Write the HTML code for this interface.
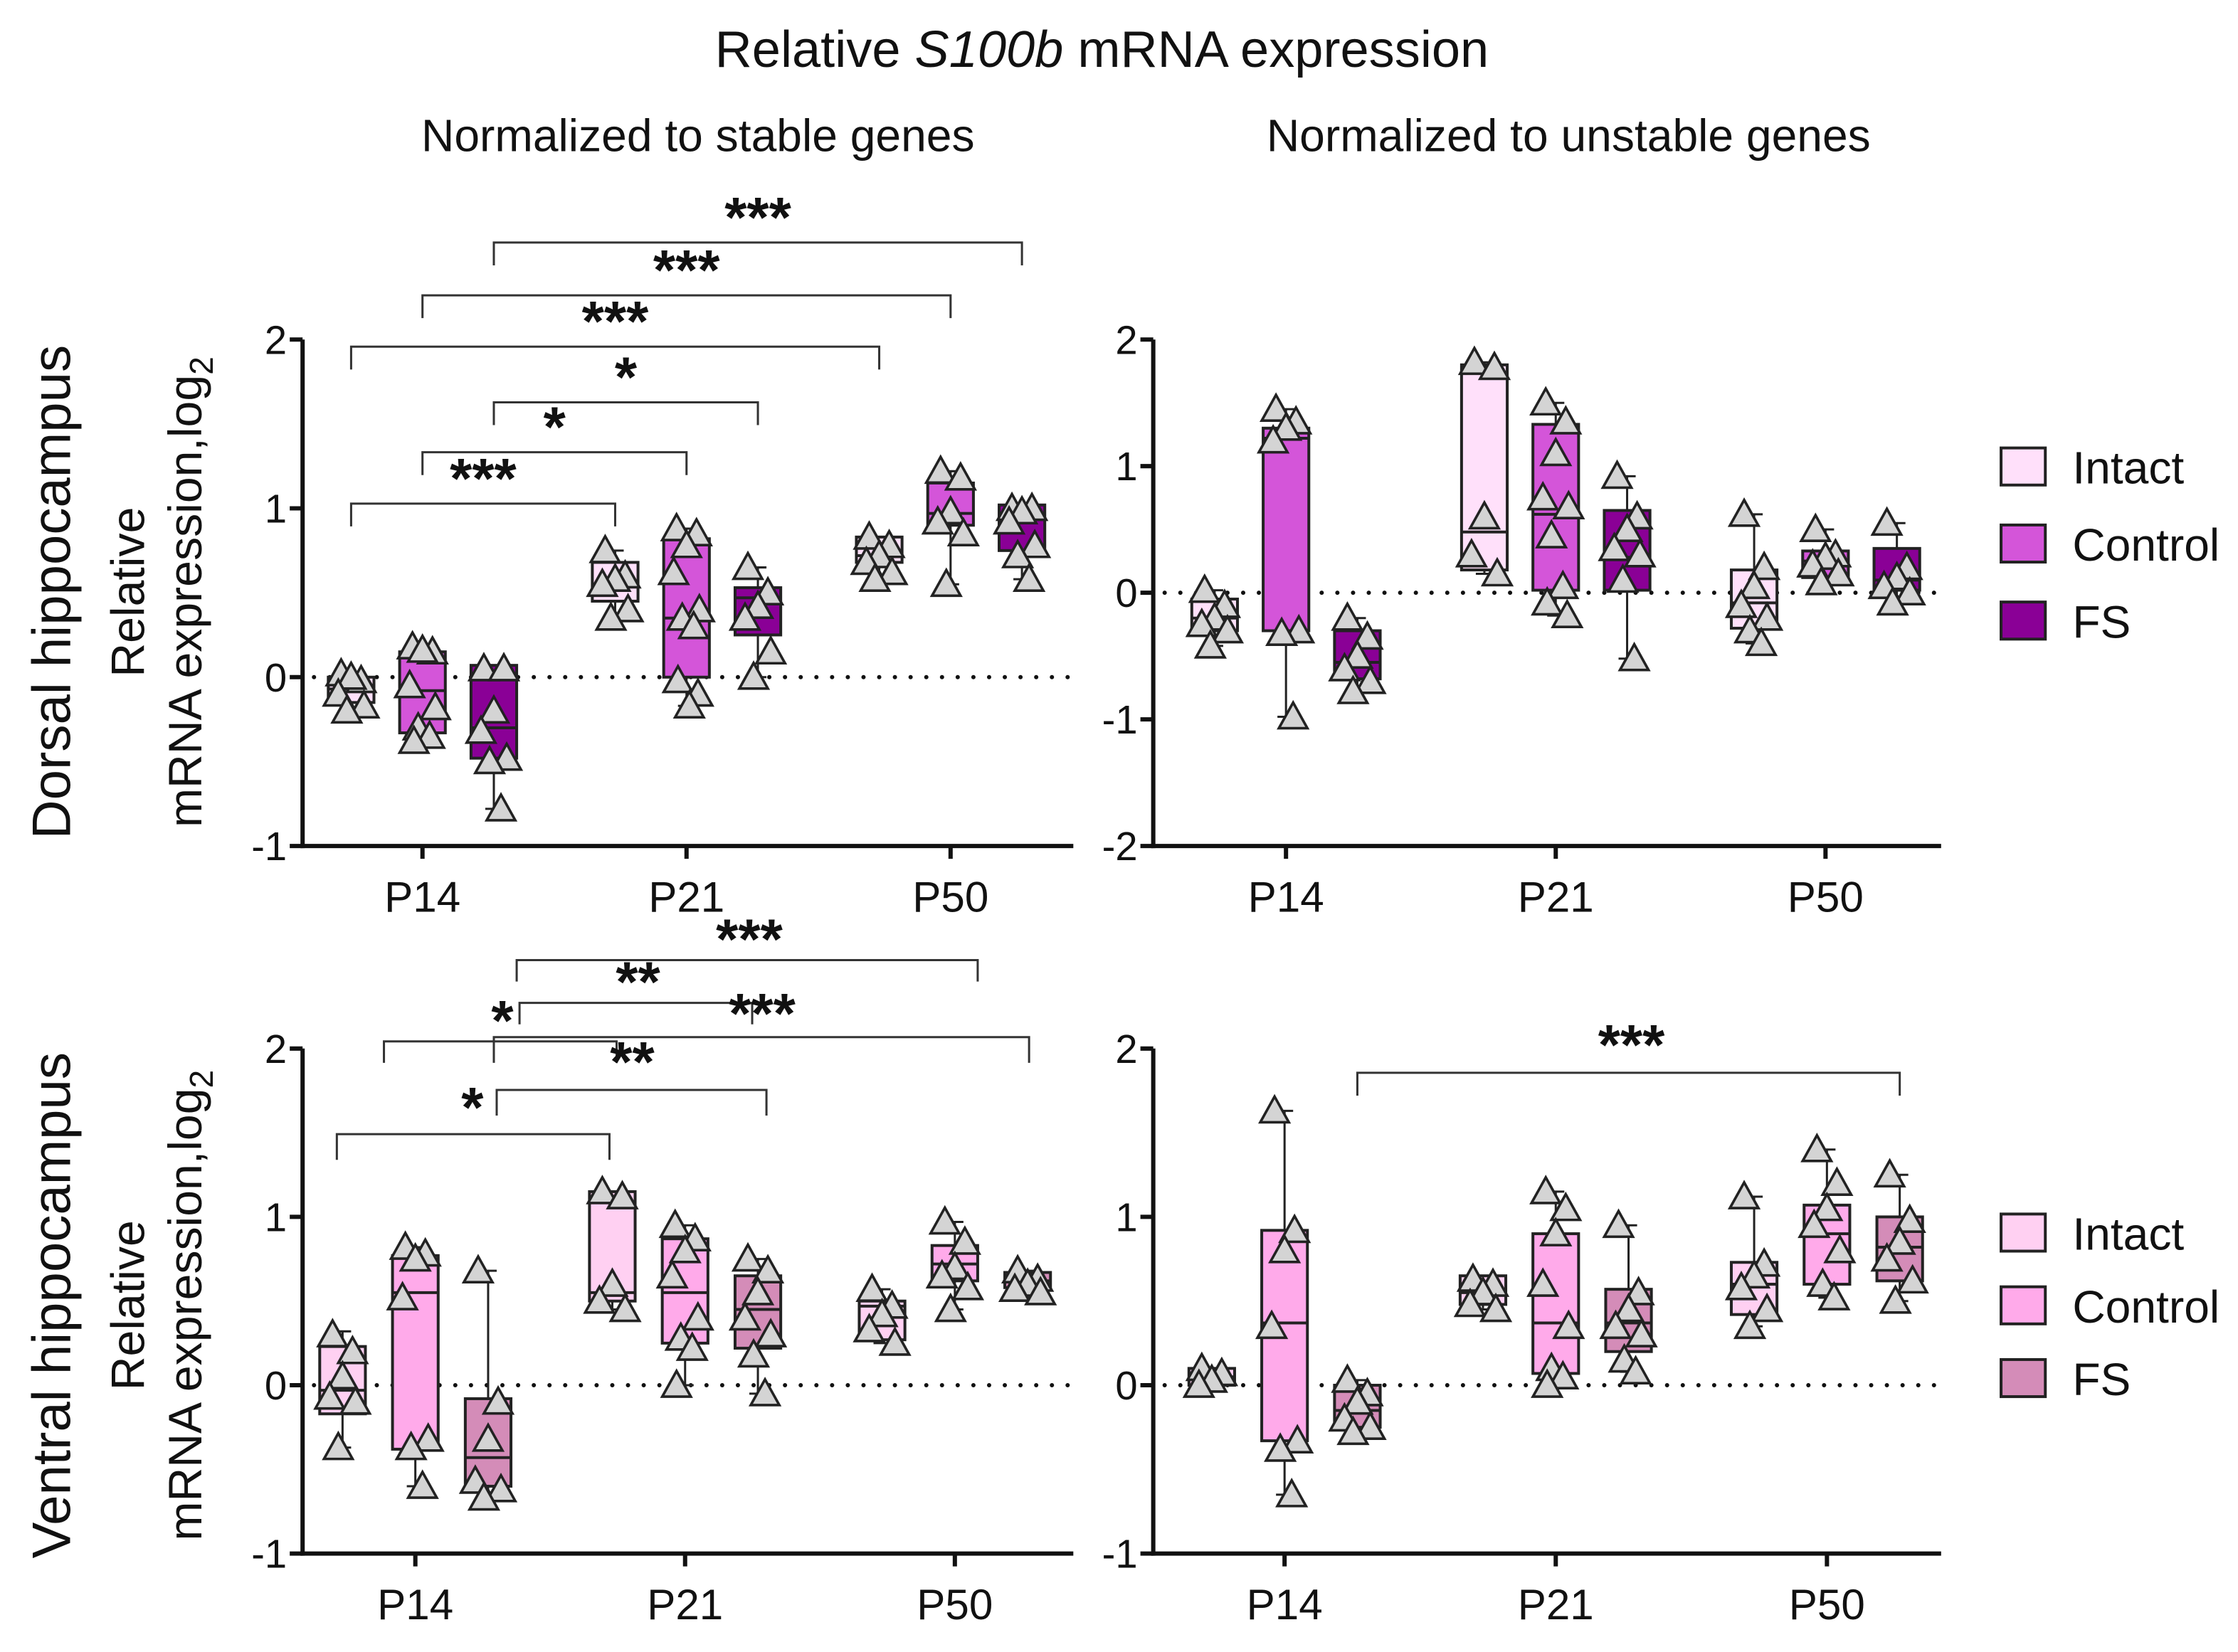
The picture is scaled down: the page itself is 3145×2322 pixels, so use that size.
<!DOCTYPE html>
<html><head><meta charset="utf-8">
<style>
html,body{margin:0;padding:0;background:#fff;}
svg{display:block;}
text{font-family:"Liberation Sans",Arial,sans-serif;fill:#111;}
</style></head>
<body>
<svg id="fig" xmlns="http://www.w3.org/2000/svg" width="3145" height="2322" viewBox="0 0 1568 1158" preserveAspectRatio="none">
<text x="772" y="47" font-size="36" text-anchor="middle">Relative <tspan font-style="italic">S100b</tspan> mRNA expression</text>
<text x="489" y="106" font-size="32" text-anchor="middle">Normalized to stable genes</text>
<text x="1099" y="106" font-size="32" text-anchor="middle">Normalized to unstable genes</text>
<text transform="translate(49,415) rotate(-90)" font-size="38" text-anchor="middle">Dorsal hippocampus</text>
<text transform="translate(49,915) rotate(-90)" font-size="38" text-anchor="middle">Ventral hippocampus</text>
<text transform="translate(101,415) rotate(-90)" font-size="33" text-anchor="middle">Relative</text>
<text transform="translate(141,415) rotate(-90)" font-size="33" text-anchor="middle">mRNA expression,log<tspan font-size="23" dy="8">2</tspan></text>
<text transform="translate(101,915) rotate(-90)" font-size="33" text-anchor="middle">Relative</text>
<text transform="translate(141,915) rotate(-90)" font-size="33" text-anchor="middle">mRNA expression,log<tspan font-size="23" dy="8">2</tspan></text>
</svg>
<script>
const NS='http://www.w3.org/2000/svg';
const svg=document.getElementById('fig');
const categories=['P14','P21','P50'];
const groups=['Intact','Control','FS'];
const colorsTop=['#ffe0fa','#d455d9','#8a0096'];
const colorsBottom=['#ffd0f2','#ffaaea','#d48cb8'];
// [min,q1,median,q3,max] for each box: P14 I,C,F, P21 I,C,F, P50 I,C,F
const statsA=[[-0.2,-0.15,-0.07,0.0,0.03],[-0.38,-0.33,-0.08,0.15,0.18],[-0.78,-0.48,-0.3,0.07,0.07],
[0.35,0.45,0.55,0.68,0.75],[-0.17,0.0,0.35,0.82,0.88],[0.0,0.25,0.47,0.53,0.65],
[0.58,0.68,0.72,0.83,0.83],[0.55,0.9,0.97,1.15,1.22],[0.58,0.75,0.95,1.02,1.02]];
const ptsA=[[0.02,-0.02,0,-0.1,-0.17,-0.2],[0.18,0.15,0.16,-0.05,-0.18,-0.3,-0.35,-0.38],[0.05,0.05,-0.2,-0.32,-0.48,-0.5,-0.78],
[0.75,0.6,0.58,0.55,0.4,0.35],[0.88,0.85,0.78,0.62,0.4,0.35,0.3,-0.02,-0.1,-0.17],[0.65,0.5,0.42,0.35,0.15,0.0],
[0.83,0.78,0.72,0.68,0.62,0.58],[1.22,1.18,0.98,0.92,0.85,0.55],[1.0,1.0,0.98,0.92,0.78,0.72,0.58]];
const statsB=[[-0.42,-0.3,-0.2,-0.05,0.02],[-0.98,-0.3,1.22,1.3,1.45],[-0.78,-0.68,-0.55,-0.3,-0.2],
[0.15,0.18,0.48,1.8,1.82],[-0.18,0.02,0.62,1.33,1.5],[-0.52,0.02,0.28,0.65,0.92],
[-0.4,-0.28,-0.08,0.18,0.62],[0.08,0.12,0.25,0.33,0.5],[-0.08,0.02,0.1,0.35,0.55]];
const ptsB=[[0.02,-0.1,-0.2,-0.25,-0.3,-0.42],[1.45,1.35,1.3,1.2,-0.3,-0.32,-0.98],[-0.2,-0.35,-0.5,-0.6,-0.7,-0.78],
[1.82,1.78,0.6,0.3,0.15],[1.5,1.35,1.1,0.75,0.68,0.45,0.05,-0.08,-0.18],[0.92,0.6,0.5,0.35,0.3,0.1,-0.52],
[0.62,0.2,0.05,-0.1,-0.2,-0.3,-0.4],[0.5,0.3,0.28,0.22,0.15,0.08],[0.55,0.2,0.12,0.05,0.0,-0.08]];
const statsC=[[-0.37,-0.17,-0.03,0.23,0.32],[-0.6,-0.38,0.55,0.77,0.82],[-0.67,-0.6,-0.43,-0.08,0.68],
[0.45,0.5,0.55,1.15,1.15],[0.0,0.25,0.55,0.87,0.95],[-0.05,0.22,0.45,0.65,0.75],
[0.25,0.27,0.47,0.5,0.57],[0.45,0.62,0.72,0.83,0.97],[0.55,0.58,0.62,0.67,0.68]];
const ptsC=[[0.3,0.2,0.05,-0.07,-0.1,-0.37],[0.82,0.78,0.75,0.52,-0.32,-0.37,-0.6],[0.68,-0.1,-0.32,-0.57,-0.62,-0.67],
[1.15,1.12,0.6,0.5,0.45],[0.95,0.87,0.8,0.65,0.4,0.28,0.22,0.0],[0.75,0.68,0.55,0.4,0.3,0.18,-0.05],
[0.57,0.47,0.42,0.33,0.25],[0.97,0.85,0.7,0.65,0.58,0.45],[0.68,0.63,0.6,0.57,0.55]];
const statsD=[[0.0,0.0,0.05,0.1,0.1],[-0.65,-0.33,0.37,0.92,1.63],[-0.28,-0.25,-0.15,0.0,0.03],
[0.45,0.48,0.55,0.65,0.63],[0.0,0.07,0.37,0.9,1.15],[0.08,0.2,0.37,0.57,0.95],
[0.35,0.42,0.6,0.73,1.12],[0.52,0.6,0.9,1.07,1.4],[0.5,0.62,0.82,1.0,1.25]];
const ptsD=[[0.1,0.07,0.03,0.0],[1.63,0.92,0.8,0.35,-0.33,-0.38,-0.65],[0.03,-0.05,-0.1,-0.2,-0.25,-0.28],
[0.63,0.6,0.55,0.48,0.45],[1.15,1.05,0.9,0.6,0.35,0.1,0.05,0.0],[0.95,0.55,0.45,0.35,0.3,0.15,0.08],
[1.12,0.72,0.65,0.58,0.45,0.35],[1.4,1.2,1.05,0.95,0.8,0.6,0.52],[1.25,0.98,0.85,0.75,0.62,0.5]];
const ticksA=[-1,0,1,2], ticksB=[-2,-1,0,1,2], ticksC=[-1,0,1,2], ticksD=[-1,0,1,2];
// significance brackets: [fromCat,fromGroup,toCat,toGroup,label]
const sigA=[[0,2,2,2,'***'],[0,1,2,1,'***'],[0,0,2,0,'***'],[0,2,1,2,'*'],[0,1,1,1,'*'],[0,0,1,0,'***']];
const sigD=[[0,2,2,2,'***']];

function el(tag,attrs,parent){const e=document.createElementNS(NS,tag);for(const k in attrs)e.setAttribute(k,attrs[k]);(parent||svg).appendChild(e);return e;}

function panel(name,cfg,stats,pts,ticks,colors){
  const g=el('g',{});
  
  
  const ymin=ticks[0],ymax=ticks[ticks.length-1];
  const y=v=>cfg.yb-(v-ymin)/(ymax-ymin)*(cfg.yb-cfg.yt);
  const xc=i=>cfg.c0+i*cfg.step;
  const xb=(i,j)=>xc(i)+(j-1)*cfg.off;
  cfg.xb=xb; cfg.y=y;
  const zl=el('line',{x1:cfg.ax+8,x2:cfg.ax1,y1:y(0),y2:y(0),stroke:'#111','stroke-width':3,'stroke-dasharray':'0 11','stroke-linecap':'round'},g);
  
  
  const ya=el('line',{x1:cfg.ax,x2:cfg.ax,y1:cfg.yt,y2:cfg.yb+1.5,stroke:'#111','stroke-width':3},g);
  
  
  const xa=el('line',{x1:cfg.ax-1.5,x2:cfg.ax1,y1:cfg.yb,y2:cfg.yb,stroke:'#111','stroke-width':3},g);
  
  
  ticks.forEach(t=>{
    el('line',{x1:cfg.ax-9,x2:cfg.ax,y1:y(t),y2:y(t),stroke:'#111','stroke-width':3},g);
    const tx=el('text',{x:cfg.ax-11,y:y(t)+10,'font-size':28,'text-anchor':'end'},g);
    tx.textContent=t;
    
    
  });
  categories.forEach((c,i)=>{
    el('line',{x1:xc(i),x2:xc(i),y1:cfg.yb,y2:cfg.yb+9,stroke:'#111','stroke-width':3},g);
    const tx=el('text',{x:xc(i),y:cfg.yb+46,'font-size':30,'text-anchor':'middle'},g);
    tx.textContent=c;
    
    
  });
  stats.forEach((s,k)=>{
    const i=Math.floor(k/3),j=k%3,x=xb(i,j),w=32;
    const bg=el('g',{},g);
    
    
    el('line',{x1:x,x2:x,y1:y(s[0]),y2:y(s[4]),stroke:'#222','stroke-width':1.5},bg);
    el('line',{x1:x-6,x2:x+6,y1:y(s[0]),y2:y(s[0]),stroke:'#222','stroke-width':1.5},bg);
    el('line',{x1:x-6,x2:x+6,y1:y(s[4]),y2:y(s[4]),stroke:'#222','stroke-width':1.5},bg);
    el('rect',{x:x-w/2,y:y(s[3]),width:w,height:Math.max(1,y(s[1])-y(s[3])),fill:colors[j],stroke:'#222','stroke-width':2},bg);
    el('line',{x1:x-w/2,x2:x+w/2,y1:y(s[2]),y2:y(s[2]),stroke:'#222','stroke-width':2},bg);
    const jit=[-7,7,0,-9,9,-3,5,-6,8,2];
    pts[k].forEach((v,p)=>{
      const px=x+jit[p%jit.length],py=y(v);
      const tri=el('polygon',{points:`${px},${py-10} ${px-10},${py+8} ${px+10},${py+8}`,fill:'#d4d4d4',stroke:'#222','stroke-width':1.8},bg);
      
      
    });
  });
  return g;
}

function bracket(g,x1,x2,yl,drop,label,lx,ly,lsize){
  const b=el('g',{},g);
  
  
  el('polyline',{points:`${x1},${yl+drop} ${x1},${yl} ${x2},${yl} ${x2},${yl+drop}`,fill:'none',stroke:'#333','stroke-width':1.5},b);
  if(label){const t=el('text',{x:lx,y:ly,'font-size':lsize||40,'font-weight':'bold','text-anchor':'middle'},b);t.textContent=label;}
}

const cA={ax:212,ax1:752,yt:238,yb:593,c0:296,step:185,off:50};
const cB={ax:808,ax1:1360,yt:238,yb:593,c0:901,step:189,off:50};
const cC={ax:212,ax1:752,yt:735,yb:1089,c0:291,step:189,off:51};
const cD={ax:808,ax1:1360,yt:735,yb:1089,c0:900,step:190,off:51};
const gA=panel('panel-dorsal-stable',cA,statsA,ptsA,ticksA,colorsTop);
const gB=panel('panel-dorsal-unstable',cB,statsB,ptsB,ticksB,colorsTop);
const gC=panel('panel-ventral-stable',cC,statsC,ptsC,ticksC,colorsBottom);
const gD=panel('panel-ventral-unstable',cD,statsD,ptsD,ticksD,colorsBottom);

const yA=[170,207,243,282,317,353];
sigA.forEach((s,k)=>{
  const x1=cA.xb(s[0],s[1]),x2=cA.xb(s[2],s[3]);
  const lx=(x1+x2)/2;
  bracket(gA,x1,x2,yA[k],16,s[4],lx,yA[k]-4,40);
});
bracket(gC,362,685,673,15,'***',525,672,40);
bracket(gC,364,527,703,15,'**',447,702,40);
bracket(gC,346,721,727,18,'***',534,724,40);
bracket(gC,269,432,730,15,'**',443,758,40);
bracket(gC,348,537,764,18,'',0,0);
bracket(gC,236,427,795,18,'',0,0);
[[352,729],[331,790]].forEach(p=>{const t=el('text',{x:p[0],y:p[1],'font-size':40,'font-weight':'bold','text-anchor':'middle'},gC);t.textContent='*';});
sigD.forEach(s=>{bracket(gD,cD.xb(s[0],s[1]),cD.xb(s[2],s[3]),752,16,s[4],1143,746,40);});

function legend(y0,colors,name){
  const lg=el('g',{});
  
  
  groups.forEach((gname,j)=>{
    const yy=y0+j*(name=='legend-top'?54:51);
    const e=el('g',{},lg);
    
    
    el('rect',{x:1402,y:yy-13,width:31,height:26,fill:colors[j],stroke:'#222','stroke-width':2},e);
    const t=el('text',{x:1452,y:yy+12,'font-size':32},e);t.textContent=gname;
  });
}
legend(327,colorsTop,'legend-top');
legend(864,colorsBottom,'legend-bottom');
</script>
</body></html>
